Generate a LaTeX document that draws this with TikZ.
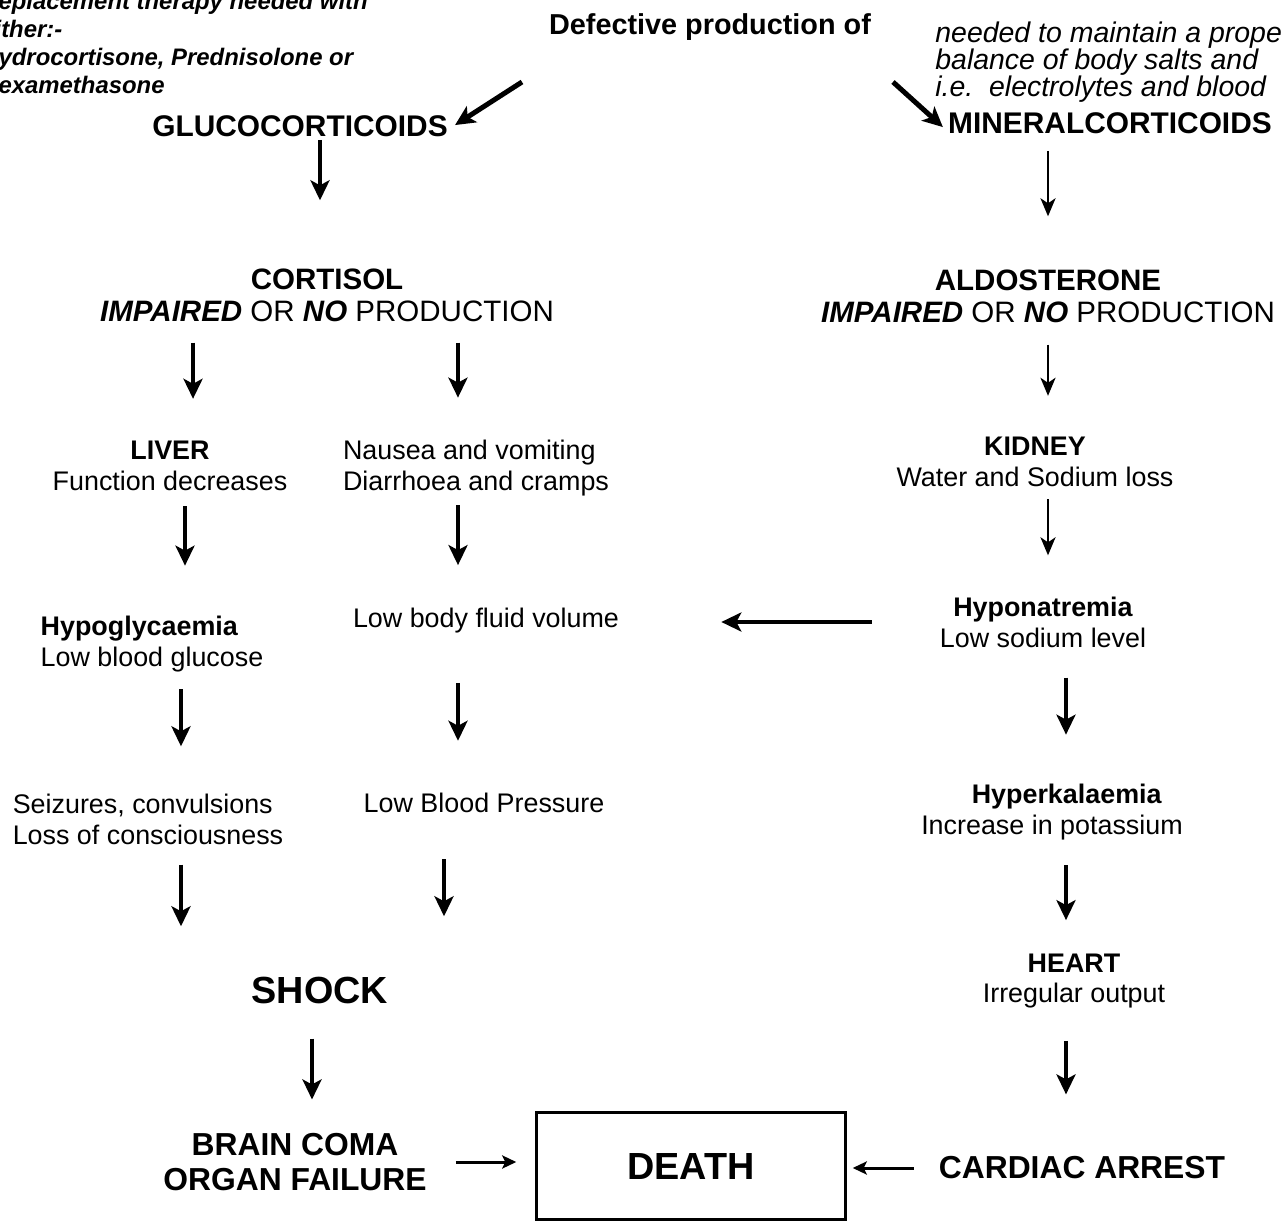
\documentclass[tikz,border=0pt]{standalone}
\usepackage{fontspec}
\setmainfont{Liberation Sans}
\usetikzlibrary{arrows.meta}

\begin{document}
\begin{tikzpicture}[x=0.02cm, y=-0.02cm,
        every node/.style={inner sep=0pt, align=center},
        head/.style={font=\fontsize{17}{18.1}\selectfont\bfseries},
        prod/.style={font=\fontsize{16.8}{18.1}\selectfont},
        body/.style={font=\fontsize{15.3}{17.6}\selectfont},
        last/.style={font=\fontsize{18.1}{20.4}\selectfont\bfseries},
        flow/.style={-{Stealth[length=0.4cm, width=0.38cm, inset=0.1cm]}, line width=0.08cm},
        sflow/.style={-{Stealth[length=0.36cm, width=0.3cm, inset=0.1cm]}, line width=0.05cm},
        hflow/.style={-{Stealth[length=0.28cm, width=0.26cm, inset=0.06cm]}, line width=0.06cm}]
    \useasboundingbox (0, 0) rectangle (1282, 1223);

    % notes at the edges
    \node[anchor=north west, align=left, font=\fontsize{13.6}{15.9}\selectfont\bfseries\itshape] (treat) at (-19, -8) {Replacement therapy needed with\\ either:-\\ Hydrocortisone, Prednisolone or\\ Dexamethasone};
    \node[anchor=north west, align=left, font=\fontsize{16.2}{15.3}\selectfont\itshape] (need) at (935, 22) {needed to maintain a proper\\ balance of body salts and\\ i.e.\ \ electrolytes and blood};

    \node[font=\fontsize{16.4}{18}\selectfont\bfseries] (defect) at (710, 27) {Defective production of};
    \coordinate (dl) at (522, 82);
    \coordinate (dr) at (893, 82);

    % left branch
    \node[head] (gluco) at (300, 126) {GLUCOCORTICOIDS};
    \node[prod] (cortL) at (327, 295) {\textbf{CORTISOL}\\ \textbf{\textit{IMPAIRED}} OR \textbf{\textit{NO}} PRODUCTION};
    \node[body] (liver) at (170, 466) {\textbf{LIVER}\\ Function decreases};
    \node[body, align=left] (nausea) at (476, 468) {Nausea and vomiting\\ Diarrhoea and cramps};
    \node[body, align=left] (hypo) at (152, 644) {\textbf{Hypoglycaemia}\\ Low blood glucose};
    \node[body] (lowfluid) at (486, 621) {Low body fluid volume};
    \node[body, align=left] (seiz) at (148, 819) {Seizures, convulsions\\ Loss of consciousness};
    \node[body] (lowbp) at (484, 803) {Low Blood Pressure};
    \node[font=\fontsize{21.5}{24}\selectfont\bfseries] (shock) at (320, 990) {SHOCK};
    \node[last] (brain) at (295, 1162) {BRAIN COMA\\ ORGAN FAILURE};

    % right branch
    \node[head] (mineral) at (1110, 123) {MINERALCORTICOIDS};
    \node[prod] (aldoR) at (1048, 296) {\textbf{ALDOSTERONE}\\ \textbf{\textit{IMPAIRED}} OR \textbf{\textit{NO}} PRODUCTION};
    \node[body] (kidney) at (1035, 462) {\textbf{KIDNEY}\\ Water and Sodium loss};
    \node[body] (hypon) at (1043, 622) {\textbf{Hyponatremia}\\ Low sodium level};
    \node[body] (hyperk) at (1052, 812) {\textbf{Hyperkalaemia}\hspace*{-1.1em}\mbox{}\\ Increase in potassium};
    \node[body] (heart) at (1074, 981) {\textbf{HEART}\\ Irregular output};
    \node[last] (cardiac) at (1082, 1168) {CARDIAC ARREST};

    \node[draw, line width=0.05cm, minimum width=6.18cm, minimum height=2.14cm, font=\fontsize{21.5}{24}\selectfont\bfseries] (death) at (691, 1166) {DEATH};

    \draw[flow, line width=0.1cm] (dl) -- ([xshift=0.14cm, yshift=-0.2cm]gluco.north east);
    \draw[flow, line width=0.1cm] (dr) -- ([xshift=-0.1cm, yshift=-0.3cm]mineral.north west);

    \draw[flow, shorten <=0.06cm, shorten >=1.36cm] ([xshift=0.4cm]gluco.south) -- ([xshift=0.4cm]gluco.south |- cortL.north);
    \draw[flow, shorten <=0.42cm, shorten >=0.84cm] ([xshift=-2.68cm]cortL.south) -- ([xshift=-2.68cm]cortL.south |- liver.north);
    \draw[flow, shorten <=0.42cm, shorten >=0.84cm] ([xshift=2.62cm]cortL.south) -- ([xshift=2.62cm]cortL.south |- nausea.north);
    \draw[flow, shorten <=0.3cm, shorten >=1.0cm] ([xshift=0.3cm]liver.south) -- ([xshift=0.3cm]liver.south |- hypo.north);
    \draw[flow, shorten <=0.18cm, shorten >=0.86cm] ([xshift=-0.36cm]nausea.south) -- ([xshift=-0.36cm]nausea.south |- lowfluid.north);
    \draw[flow, shorten <=0.34cm, shorten >=0.94cm] ([xshift=0.58cm]hypo.south) -- ([xshift=0.58cm]hypo.south |- seiz.north);
    \draw[flow, shorten <=0.98cm, shorten >=1.04cm] ([xshift=-0.56cm]lowfluid.south) -- ([xshift=-0.56cm]lowfluid.south |- lowbp.north);
    \draw[flow, shorten <=0.4cm, shorten >=1.0cm] ([xshift=0.66cm]seiz.south) -- ([xshift=0.66cm]seiz.south |- shock.north);
    \draw[flow, shorten <=0.92cm, shorten >=1.2cm] ([xshift=-0.8cm]lowbp.south) -- ([xshift=-0.8cm]lowbp.south |- shock.north);
    \draw[flow, shorten <=0.7cm, shorten >=0.66cm] ([xshift=-0.16cm]shock.south) -- ([xshift=-0.16cm]shock.south |- brain.north);

    \draw[sflow, shorten <=0.34cm, shorten >=1.06cm] ([xshift=-1.24cm]mineral.south) -- ([xshift=-1.24cm]mineral.south |- aldoR.north);
    \draw[sflow, shorten <=0.44cm, shorten >=0.82cm] (aldoR.south) -- (aldoR.south |- kidney.north);
    \draw[sflow, shorten <=0.24cm, shorten >=0.82cm] ([xshift=0.26cm]kidney.south) -- ([xshift=0.26cm]kidney.south |- hypon.north);
    \draw[flow, shorten <=0.6cm, shorten >=0.98cm] ([xshift=0.46cm]hypon.south) -- ([xshift=0.46cm]hypon.south |- hyperk.north);
    \draw[flow, shorten <=0.5cm, shorten >=0.66cm] ([xshift=0.28cm]hyperk.south) -- ([xshift=0.28cm]hyperk.south |- heart.north);
    \draw[flow, shorten <=0.64cm, shorten >=1.24cm] ([xshift=-0.16cm]heart.south) -- ([xshift=-0.16cm]heart.south |- cardiac.north);

    \draw[flow, shorten <=1.36cm, shorten >=2.04cm] (hypon.west) -- (hypon.west -| lowfluid.east);
    \draw[hflow, shorten <=0.58cm, shorten >=0.38cm] (brain.east) -- (brain.east -| death.west);
    \draw[hflow, shorten <=0.5cm, shorten >=0.12cm] (cardiac.west) -- (cardiac.west -| death.east);
\end{tikzpicture}
\end{document}
